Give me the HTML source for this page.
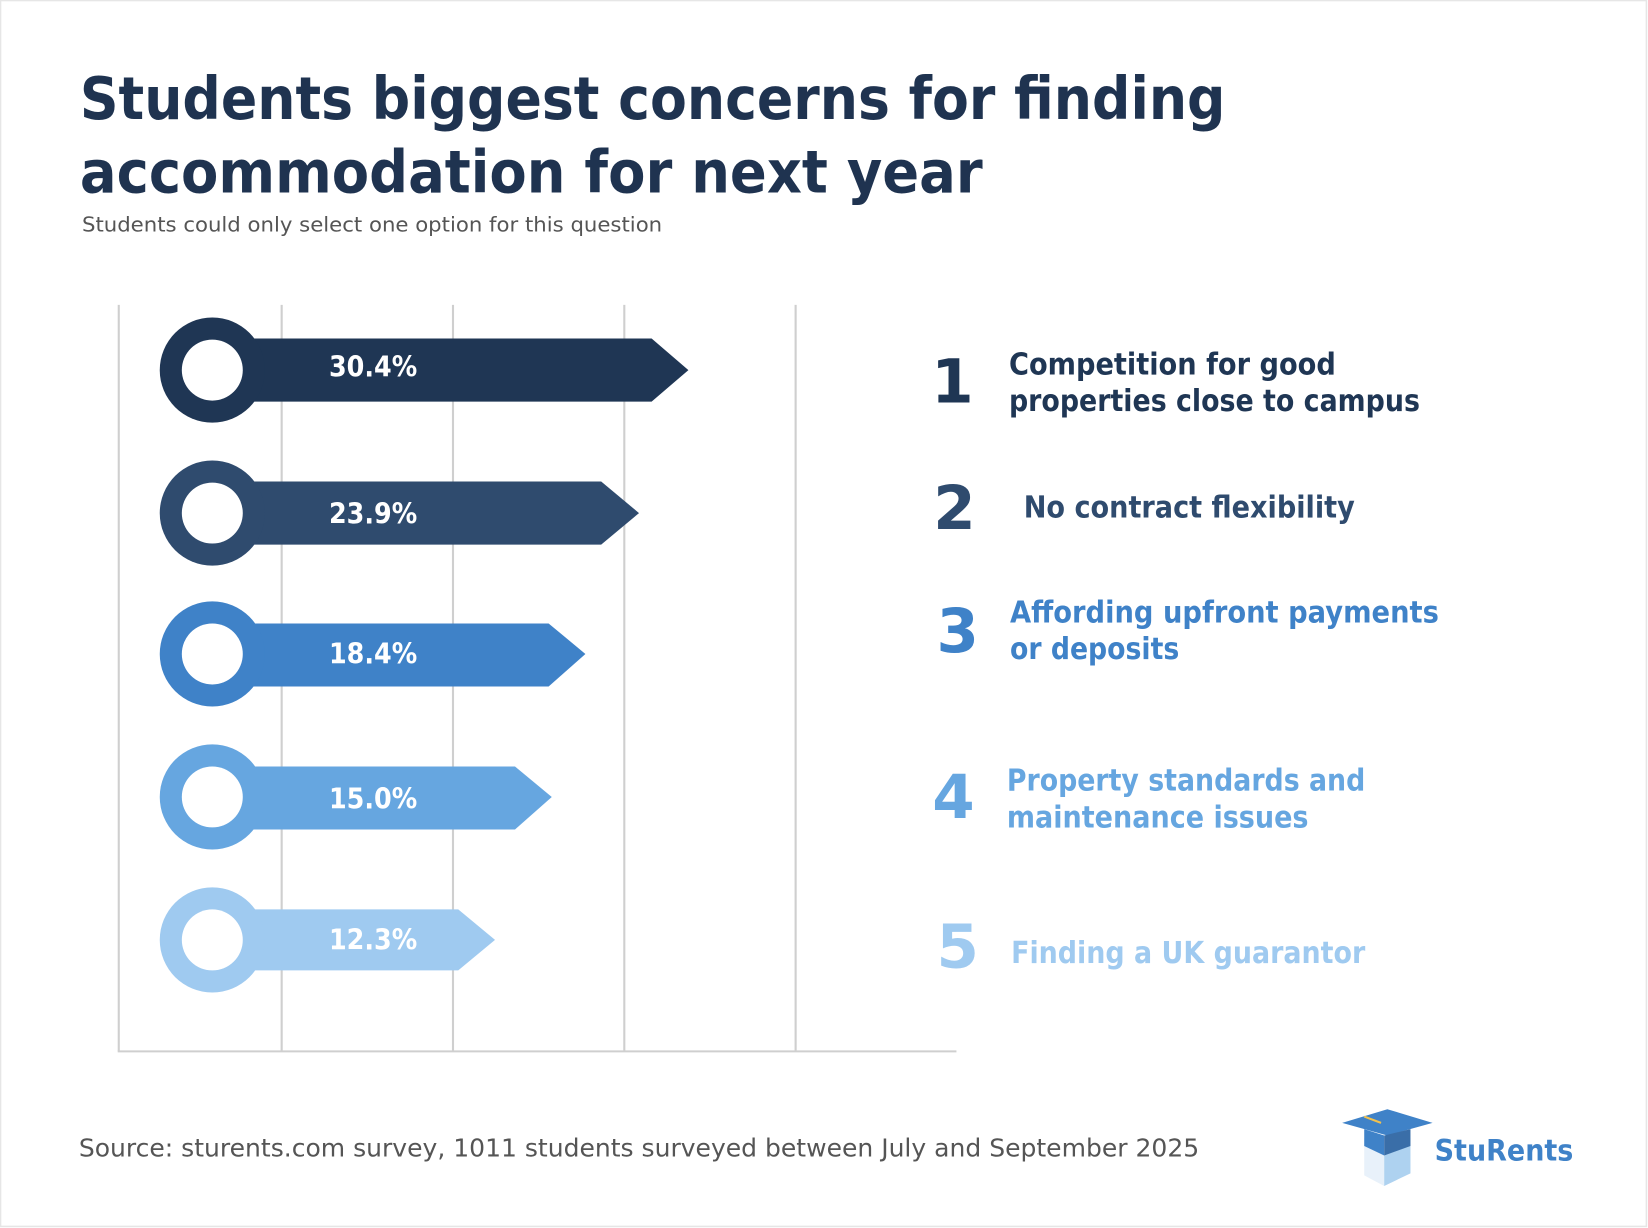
<!DOCTYPE html>
<html><head><meta charset="utf-8"><style>
html,body{margin:0;padding:0;background:#fff}
svg{display:block}
text{font-family:"DejaVu Sans","Liberation Sans",sans-serif}
</style></head><body>
<svg width="1648" height="1228" viewBox="0 0 1568 1168" preserveAspectRatio="none" xmlns="http://www.w3.org/2000/svg">
<rect x="0" y="0" width="1568" height="1168" fill="#fff"/>
<rect x="0.5" y="0.5" width="1566" height="1166" fill="none" stroke="#e6e6e6" stroke-width="1.5"/>
<g font-weight="bold" fill="#1f3350" font-size="56">
<text x="76" y="113" textLength="1090" lengthAdjust="spacingAndGlyphs">Students biggest concerns for finding</text>
<text x="76" y="183" textLength="859" lengthAdjust="spacingAndGlyphs">accommodation for next year</text>
</g>
<text x="78" y="220" font-size="19" fill="#555" textLength="552" lengthAdjust="spacingAndGlyphs">Students could only select one option for this question</text>
<g stroke="#cfcfcf" stroke-width="2">
<line x1="113" y1="290" x2="113" y2="1000"/>
<line x1="268" y1="290" x2="268" y2="1000"/>
<line x1="431" y1="290" x2="431" y2="1000"/>
<line x1="594" y1="290" x2="594" y2="1000"/>
<line x1="757" y1="290" x2="757" y2="1000"/>
<line x1="112" y1="1000" x2="910" y2="1000"/>
</g>
<g>
<path d="M202 352 L202 322 L620 322 L655 352 L620 382 L202 382Z" fill="#1f3654"/>
<circle cx="202" cy="352" r="50" fill="#1f3654"/><circle cx="202" cy="352" r="29" fill="#fff"/>
<path d="M202 458 L572 458 L608 488 L572 518 L202 518Z" fill="#2f4b6e"/>
<circle cx="202" cy="488" r="50" fill="#2f4b6e"/><circle cx="202" cy="488" r="29" fill="#fff"/>
<path d="M202 593 L522 593 L557 622 L522 653 L202 653Z" fill="#3f82c8"/>
<circle cx="202" cy="622" r="50" fill="#3f82c8"/><circle cx="202" cy="622" r="29" fill="#fff"/>
<path d="M202 729 L490 729 L525 758 L490 789 L202 789Z" fill="#66a6e0"/>
<circle cx="202" cy="758" r="50" fill="#66a6e0"/><circle cx="202" cy="758" r="29" fill="#fff"/>
<path d="M202 865 L436 865 L471 894 L436 923 L202 923Z" fill="#9fcaf0"/>
<circle cx="202" cy="894" r="50" fill="#9fcaf0"/><circle cx="202" cy="894" r="29" fill="#fff"/>
</g>
<g fill="#fff" font-weight="bold" font-size="27">
<text x="313" y="358" textLength="84" lengthAdjust="spacingAndGlyphs">30.4%</text>
<text x="313" y="498" textLength="84" lengthAdjust="spacingAndGlyphs">23.9%</text>
<text x="313" y="631" textLength="84" lengthAdjust="spacingAndGlyphs">18.4%</text>
<text x="313" y="769" textLength="84" lengthAdjust="spacingAndGlyphs">15.0%</text>
<text x="313" y="903" textLength="84" lengthAdjust="spacingAndGlyphs">12.3%</text>
</g>
<g font-weight="bold" font-size="58">
<text x="886" y="383" fill="#1f3654">1</text>
<text x="888" y="503" fill="#2f4b6e">2</text>
<text x="891" y="620" fill="#3f82c8">3</text>
<text x="887" y="778" fill="#66a6e0">4</text>
<text x="891" y="920" fill="#9fcaf0">5</text>
</g>
<g font-weight="bold" font-size="29">
<text x="960" y="356" fill="#1f3654" textLength="311" lengthAdjust="spacingAndGlyphs">Competition for good</text>
<text x="960" y="391" fill="#1f3654" textLength="391" lengthAdjust="spacingAndGlyphs">properties close to campus</text>
<text x="974" y="492" fill="#2f4b6e" textLength="315" lengthAdjust="spacingAndGlyphs">No contract flexibility</text>
<text x="961" y="592" fill="#3f82c8" textLength="408" lengthAdjust="spacingAndGlyphs">Affording upfront payments</text>
<text x="961" y="627" fill="#3f82c8" textLength="161" lengthAdjust="spacingAndGlyphs">or deposits</text>
<text x="958" y="752" fill="#66a6e0" textLength="341" lengthAdjust="spacingAndGlyphs">Property standards and</text>
<text x="958" y="787" fill="#66a6e0" textLength="287" lengthAdjust="spacingAndGlyphs">maintenance issues</text>
<text x="962" y="916" fill="#9fcaf0" textLength="337" lengthAdjust="spacingAndGlyphs">Finding a UK guarantor</text>
</g>
<text x="75" y="1100" font-size="24" fill="#555" textLength="1066" lengthAdjust="spacingAndGlyphs">Source: sturents.com survey, 1011 students surveyed between July and September 2025</text>
<g>
<path d="M1298 1082 L1298 1118 L1317 1128 L1317 1098Z" fill="#e8f1fa"/>
<path d="M1317 1098 L1317 1128 L1342 1116 L1342 1082Z" fill="#aed2f0"/>
<path d="M1277 1068 L1320 1055 L1363 1068 L1320 1080Z" fill="#3f82c8"/>
<path d="M1298 1074 L1298 1090 L1317 1099 L1317 1080Z" fill="#3f82c8"/>
<path d="M1317 1080 L1317 1099 L1342 1090 L1342 1074Z" fill="#3a6ea8"/>
<line x1="1298" y1="1062" x2="1314" y2="1068" stroke="#f2c14e" stroke-width="2"/>
</g>
<text x="1365" y="1104" font-weight="bold" font-size="28" fill="#3f82c8" textLength="132" lengthAdjust="spacingAndGlyphs">StuRents</text>
</svg>
</body></html>
